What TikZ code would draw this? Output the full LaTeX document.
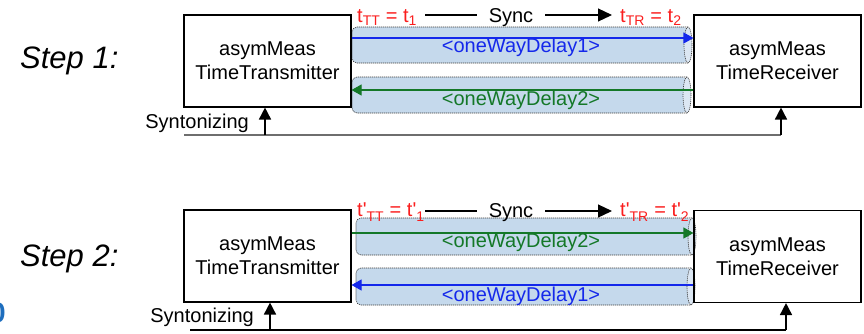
\documentclass[tikz,border=0pt]{standalone}
\usepackage{fontspec}
\setmainfont{Liberation Sans}
\usetikzlibrary{arrows.meta}

\definecolor{pipefillc}{RGB}{197,217,236}
\definecolor{pipefacec}{RGB}{220,231,243}
\definecolor{pipeedgec}{RGB}{60,60,60}
\definecolor{bluec}{RGB}{20,40,235}
\definecolor{greenc}{RGB}{20,120,40}
\definecolor{redc}{RGB}{250,30,30}
\definecolor{syngray}{RGB}{110,110,110}
\definecolor{markblue}{RGB}{30,110,190}

% horizontal pipe: #1 left x, #2 x of the end face, #3 top y, #4 bottom y
\newcommand{\pipebody}[4]{%
  \fill[pipefillc, rounded corners=5pt] (#2,#3) -- (#1,#3) -- (#1,#4) -- (#2,#4) -- cycle;
  \draw[pipeedge, rounded corners=5pt] (#2,#3) -- (#1,#3) -- (#1,#4) -- (#2,#4);
  \path[pipeedge, fill=pipefacec] (#2,{(#3+#4)/2}) ellipse [x radius=4, y radius={(#4-#3)/2}];
}
\newcommand{\pr}{\textquotesingle}
\newcommand{\lowsub}[1]{\raisebox{-2pt}{\textsubscript{#1}}}

\tikzset{
  x=1pt, y=-1pt,
  pipeedge/.style={draw=pipeedgec, line width=0.6pt, dash pattern=on 1.2pt off 0.8pt},
  box/.style={draw=black, line width=1.1pt, minimum width=167pt, minimum height=92pt,
    align=center, font=\fontsize{20}{24}\selectfont, inner sep=0pt},
  lbl/.style={font=\fontsize{20}{24}\selectfont, inner sep=0pt},
  steplbl/.style={font=\fontsize{31}{36}\selectfont\itshape, inner sep=0pt, anchor=base west},
  tlbl/.style={font=\fontsize{20}{24}\selectfont, text=redc, inner sep=0pt, anchor=base west},
  delay/.style={line width=1.1pt, -{Triangle[length=10pt,width=11pt]}},
  syncarr/.style={line width=1.2pt, -{Triangle[length=14pt,width=13pt]}},
  synt/.style={line width=1.5pt, syngray},
  syntup/.style={line width=1.6pt, black, -{Triangle[length=12pt,width=12pt]}},
}

\begin{document}
\begin{tikzpicture}
\useasboundingbox (0,0) rectangle (864,333);

% clipped marker at the left edge
\node[font=\fontsize{28}{30}\selectfont\bfseries, text=markblue, inner sep=0pt, anchor=east] (mark) at (6,313) {0};

%% ---------------- Step 1 ----------------
\node[steplbl] (step1) at (20,68) {Step 1:};

\pipebody{352}{688}{27}{63}
\pipebody{352}{687}{77}{113}

\node[box] (tt1) at (267.5,61) {asymMeas\\TimeTransmitter};
\node[box] (tr1) at (777.5,61) {asymMeas\\TimeReceiver};

\coordinate (d1a) at (0,38);
\coordinate (d1b) at (0,90);
\draw[delay, bluec] (tt1.east |- d1a) -- (tr1.west |- d1a);
\draw[delay, greenc] (tr1.west |- d1b) -- (tt1.east |- d1b);
\node[lbl, text=bluec] (ow11) at (521,47) {<oneWayDelay1>};
\node[lbl, text=greenc] (ow12) at (521,100) {<oneWayDelay2>};

% timestamps and sync message
\node[tlbl] (ttt1) at (357,22) {t\textsubscript{TT} = t\textsubscript{1}};
\node[tlbl] (ttr1) at (620,22) {t\textsubscript{TR} = t\textsubscript{2}};
\node[lbl, anchor=base, inner xsep=12pt] (sync1) at (511,22) {Sync};
\coordinate (sa1) at (425,15);
\coordinate (sb1) at (612,15);
\draw[line width=1.2pt] (sa1) -- (sync1.west |- sa1);
\draw[syncarr] (sync1.east |- sb1) -- (sb1);

% syntonizing
\node[lbl, anchor=east] (syn1) at (249,123) {Syntonizing};
\coordinate (s1l) at (184,135);
\coordinate (s1a) at (265,135);
\coordinate (s1b) at (781,135);
\draw[synt] (s1l) -- (s1b);
\draw[syntup] (s1a) -- (tt1.south -| s1a);
\draw[syntup] (s1b) -- (tr1.south -| s1b);

%% ---------------- Step 2 ----------------
\node[steplbl] (step2) at (20,266) {Step 2:};

\pipebody{356}{692}{218}{255}
\pipebody{356}{691}{268}{305}

\node[box] (tt2) at (267.5,256) {asymMeas\\TimeTransmitter};
\node[box] (tr2) at (777.5,256.5) {asymMeas\\TimeReceiver};

\coordinate (d2a) at (0,233);
\coordinate (d2b) at (0,285);
\draw[delay, greenc] (tt2.east |- d2a) -- (tr2.west |- d2a);
\draw[delay, bluec] (tr2.west |- d2b) -- (tt2.east |- d2b);
\node[lbl, text=greenc] (ow22) at (521,242) {<oneWayDelay2>};
\node[lbl, text=bluec] (ow21) at (521,296) {<oneWayDelay1>};

\node[tlbl] (ttt2) at (357,216) {t\pr\lowsub{TT} = t\pr\lowsub{1}};
\node[tlbl] (ttr2) at (620,216) {t\pr\lowsub{TR} = t\pr\lowsub{2}};
\node[lbl, anchor=base, inner xsep=12pt] (sync2) at (511,217) {Sync};
\coordinate (sa2) at (425,211);
\coordinate (sb2) at (612,211);
\draw[line width=1.2pt] (sa2) -- (sync2.west |- sa2);
\draw[syncarr] (sync2.east |- sb2) -- (sb2);

\node[lbl, anchor=east] (syn2) at (254,317) {Syntonizing};
\coordinate (s2l) at (190,330);
\coordinate (s2a) at (270,330);
\coordinate (s2b) at (786,330);
\draw[line width=2.5pt, black] (s2l) -- (s2b);
\draw[syntup] (s2a) -- (tt2.south -| s2a);
\draw[syntup] (s2b) -- (tr2.south -| s2b);
\end{tikzpicture}
\end{document}
